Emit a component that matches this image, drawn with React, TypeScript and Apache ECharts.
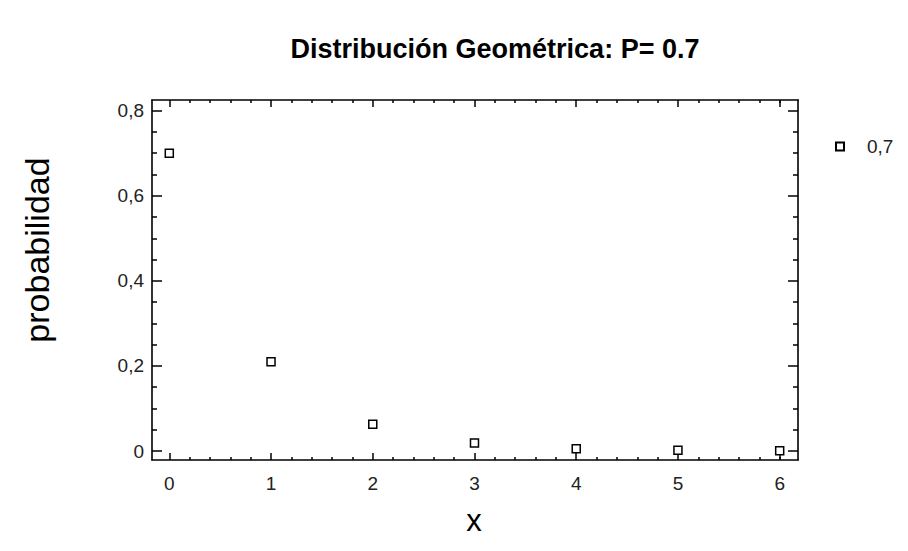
import React, { useEffect, useRef } from "react";
import * as echarts from "echarts";

const xValues = [0, 1, 2, 3, 4, 5, 6];
const probValues = [0.7, 0.21, 0.063, 0.019, 0.0057, 0.0017, 0.0005];
const seriesName = "0,7";
const xMajorTicks = [0, 1, 2, 3, 4, 5, 6];
const xMinorTicks = [
  0.2, 0.4, 0.6, 0.8, 1.2, 1.4, 1.6, 1.8, 2.2, 2.4, 2.6, 2.8, 3.2, 3.4, 3.6, 3.8,
  4.2, 4.4, 4.6, 4.8, 5.2, 5.4, 5.6, 5.8, 6.0,
];
const yMajorTicks = [0, 0.2, 0.4, 0.6, 0.8];
const yMinorTicks = [0.05, 0.1, 0.15, 0.25, 0.3, 0.35, 0.45, 0.5, 0.55, 0.65, 0.7, 0.75];

const FONT = "'Liberation Sans', Arial, sans-serif";
const X_MIN = -0.17;
const X_MAX = 6.18;
const Y_MIN = -0.021;
const Y_MAX = 0.825;

function fmtComma(v: number) {
  return String(Math.round(v * 10) / 10).replace(".", ",");
}

export default function App() {
  const ref = useRef<HTMLDivElement>(null);
  useEffect(() => {
    if (!ref.current) return;
    const chart = echarts.init(ref.current, undefined, { renderer: "svg" });
    const line = { show: true, onZero: false, lineStyle: { color: "#000", width: 1.6 } };
    const noLine = { show: false, onZero: false };
    const xAxisBase = (position: string, ticks: number[], len: number, labels: boolean, showLine: boolean) => ({
      type: "value",
      position,
      min: X_MIN,
      max: X_MAX,
      axisLine: showLine ? line : noLine,
      splitLine: { show: false },
      axisTick: {
        show: true,
        inside: true,
        length: len,
        customValues: ticks,
        lineStyle: { color: "#000", width: 1.5 },
      },
      axisLabel: labels
        ? {
            show: true,
            customValues: xMajorTicks,
            fontFamily: FONT,
            fontSize: 19,
            color: "#222",
            margin: 14,
            formatter: (v: number) => fmtComma(v),
          }
        : { show: false },
    });
    const yAxisBase = (position: string, ticks: number[], len: number, labels: boolean, showLine: boolean) => ({
      type: "value",
      position,
      min: Y_MIN,
      max: Y_MAX,
      axisLine: showLine ? line : noLine,
      splitLine: { show: false },
      axisTick: {
        show: true,
        inside: true,
        length: len,
        customValues: ticks,
        lineStyle: { color: "#000", width: 1.5 },
      },
      axisLabel: labels
        ? {
            show: true,
            customValues: yMajorTicks,
            fontFamily: FONT,
            fontSize: 19,
            color: "#222",
            margin: 8,
            formatter: (v: number) => fmtComma(v),
          }
        : { show: false },
    });
    chart.setOption({
      animation: false,
      backgroundColor: "#fff",
      title: {
        text: "Distribución Geométrica: P= 0.7",
        left: 490,
        textAlign: "center",
        top: 30,
        textStyle: { fontFamily: FONT, fontSize: 27, fontWeight: "bold", color: "#000" },
      },
      grid: { left: 152, right: 110, top: 100, bottom: 91 },
      xAxis: [
        xAxisBase("bottom", xMajorTicks, 7, true, true),
        xAxisBase("bottom", xMinorTicks, 3, false, false),
        xAxisBase("top", xMajorTicks, 7, false, true),
        xAxisBase("top", xMinorTicks, 3, false, false),
      ],
      yAxis: [
        yAxisBase("left", yMajorTicks, 10, true, true),
        yAxisBase("left", yMinorTicks, 5, false, false),
        yAxisBase("right", yMajorTicks, 10, false, true),
        yAxisBase("right", yMinorTicks, 5, false, false),
      ],
      legend: {
        show: true,
        left: 830,
        top: 132,
        orient: "vertical",
        icon: "rect",
        itemWidth: 8,
        itemHeight: 8,
        textStyle: { fontFamily: FONT, fontSize: 19, color: "#222", padding: [0, 0, 0, 18] },
        data: [seriesName],
      },
      graphic: [
        {
          type: "text",
          x: 37,
          y: 250,
          rotation: Math.PI / 2,
          style: {
            text: "probabilidad",
            fontFamily: FONT,
            fontSize: 34,
            fill: "#000",
            align: "center",
            verticalAlign: "middle",
          },
        },
        {
          type: "text",
          x: 474,
          y: 520,
          style: {
            text: "x",
            fontFamily: FONT,
            fontSize: 31,
            fill: "#000",
            align: "center",
            verticalAlign: "middle",
          },
        },
      ],
      series: [
        {
          name: seriesName,
          type: "scatter",
          xAxisIndex: 0,
          yAxisIndex: 0,
          symbol: "rect",
          symbolSize: 8,
          itemStyle: { color: "#fff", borderColor: "#000", borderWidth: 1.5, opacity: 1 },
          data: xValues.map((x, i) => [x, probValues[i]]),
        },
      ],
    });
    return () => chart.dispose();
  }, []);
  return (
    <div
      ref={ref}
      style={{ position: "fixed", left: 0, top: 0, width: 908, height: 551 }}
    />
  );
}
